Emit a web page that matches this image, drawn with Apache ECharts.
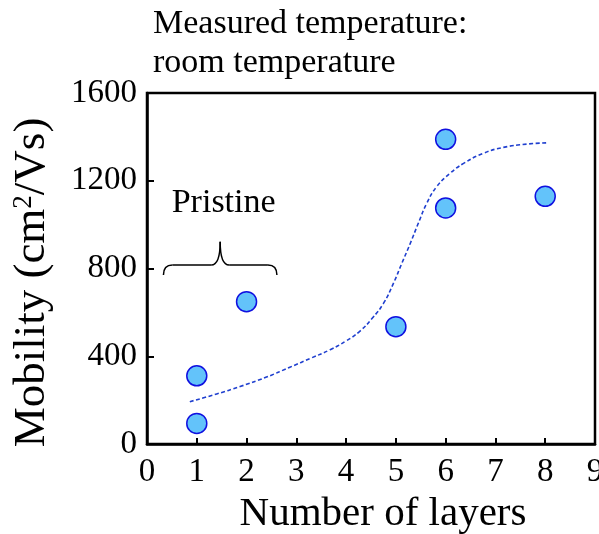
<!DOCTYPE html>
<html lang="en">
<head>
    <meta charset="UTF-8">
    <title>Mobility vs number of layers</title>
    <style>
        html, body { margin: 0; padding: 0; background: #fff; }
        #chart { width: 599px; height: 534px; }
    </style>
</head>
<body>
<div id="chart"></div>

<script src="https://cdn.jsdelivr.net/npm/echarts@6/dist/echarts.min.js"></script>
<script>
    // measured points
    const layers = [1, 1, 2, 5, 6, 6, 8];
    const mobility = [94, 311, 649, 535, 1389, 1076, 1129];

    // dashed guide curve
    const fitLayers = [0.86, 1.4, 1.87, 2.4, 2.87, 3.3, 3.68, 4.0, 4.28, 4.52, 4.75, 4.95, 5.12, 5.29, 5.45, 5.62, 5.82, 6.09, 6.36, 6.76, 7.16, 7.63, 8.06];
    const fitMobility = [193, 228, 262, 305, 350, 392, 430, 470, 515, 572, 641, 732, 824, 915, 1006, 1097, 1173, 1234, 1279, 1325, 1352, 1367, 1373];

    // "Pristine" brace: left end, tip, right end (x) and end / bar / tip (y)
    const braceX = [0.33, 1.47, 2.61];
    const braceY = [770, 816, 922];
    const pristineAt = [1.54, 1098];

    const serif = '"Liberation Serif", "Times New Roman", serif';

    let chart = echarts.init(document.getElementById('chart'));

    const option = {
        animation: false,
        title: {
            text: 'Measured temperature:\nroom temperature',
            left: 153,
            top: 5,
            padding: 0,
            textStyle: {fontFamily: serif, fontSize: 34, fontWeight: 'normal', color: '#000', lineHeight: 39}
        },
        grid: {
            left: 147, right: 4, top: 93, bottom: 90,
            outerBoundsMode: 'none',
            containLabel: false,
            show: true, borderColor: '#000', borderWidth: 2.5, backgroundColor: 'transparent'
        },
        xAxis: {
            type: 'value',
            min: 0, max: 9, interval: 1,
            name: 'Number of layers',
            nameLocation: 'middle',
            nameGap: 50,
            nameTextStyle: {fontFamily: serif, fontSize: 41, color: '#000', padding: [0, 0, 0, 24]},
            axisLine: {show: true, lineStyle: {color: '#000', width: 2.5}},
            axisTick: {show: true, inside: true, length: 6, lineStyle: {color: '#000', width: 2}},
            axisLabel: {fontFamily: serif, fontSize: 33, color: '#000', margin: 12},
            splitLine: {show: false}
        },
        yAxis: {
            type: 'value',
            min: 0, max: 1600, interval: 400,
            name: 'Mobility (cm{sup|2}/Vs)',
            nameLocation: 'middle',
            nameGap: 92,
            nameTextStyle: {
                fontFamily: serif, fontSize: 45, color: '#000', padding: [0, 28, 0, 0],
                rich: {
                    sup: {fontFamily: serif, fontSize: 27, color: '#000', verticalAlign: 'top', lineHeight: 45}
                }
            },
            axisLine: {show: true, lineStyle: {color: '#000', width: 2.5}},
            axisTick: {show: true, inside: true, length: 7, lineStyle: {color: '#000', width: 2}},
            axisLabel: {fontFamily: serif, fontSize: 33, color: '#000', margin: 10, formatter: v => String(v)},
            splitLine: {show: false}
        },
        series: [
            {
                name: 'fit',
                type: 'line',
                smooth: 0.5,
                symbol: 'none',
                data: fitLayers.map((x, i) => [x, fitMobility[i]]),
                lineStyle: {color: '#1f3fcf', width: 1.6, type: [4, 2.5]},
                z: 2
            },
            {
                name: 'mobility',
                type: 'scatter',
                symbol: 'circle',
                symbolSize: 20,
                data: layers.map((x, i) => [x, mobility[i]]),
                itemStyle: {color: '#63c3fa', borderColor: '#1010e0', borderWidth: 1.5, opacity: 1},
                z: 3
            }
        ]
    };
    chart.setOption(option);

    // brace + label placed in data space
    const toPx = v => chart.convertToPixel({gridIndex: 0}, v);
    const l = toPx([braceX[0], braceY[0]]);
    const m = toPx([braceX[1], braceY[1]]);
    const tip = toPx([braceX[1], braceY[2]]);
    const r = toPx([braceX[2], braceY[0]]);
    const p = toPx(pristineAt);
    const c = 9;
    const braceStyle = {stroke: '#000', lineWidth: 1.5, fill: null};

    chart.setOption({
        graphic: [
            {type: 'bezierCurve', z: 10, style: braceStyle,
                shape: {x1: l[0], y1: l[1], x2: l[0] + c, y2: m[1], cpx1: l[0], cpy1: m[1]}},
            {type: 'line', z: 10, style: braceStyle,
                shape: {x1: l[0] + c, y1: m[1], x2: m[0] - c, y2: m[1]}},
            {type: 'bezierCurve', z: 10, style: braceStyle,
                shape: {x1: m[0] - c, y1: m[1], x2: m[0], y2: tip[1], cpx1: m[0], cpy1: m[1]}},
            {type: 'bezierCurve', z: 10, style: braceStyle,
                shape: {x1: m[0], y1: tip[1], x2: m[0] + c, y2: m[1], cpx1: m[0], cpy1: m[1]}},
            {type: 'line', z: 10, style: braceStyle,
                shape: {x1: m[0] + c, y1: m[1], x2: r[0] - c, y2: m[1]}},
            {type: 'bezierCurve', z: 10, style: braceStyle,
                shape: {x1: r[0] - c, y1: m[1], x2: r[0], y2: r[1], cpx1: r[0], cpy1: m[1]}},
            {
                type: 'text', z: 10,
                x: p[0], y: p[1],
                style: {
                    text: 'Pristine', fontFamily: serif, fontSize: 34, fill: '#000',
                    align: 'center', verticalAlign: 'middle'
                }
            }
        ]
    });
</script>
</body>
</html>
